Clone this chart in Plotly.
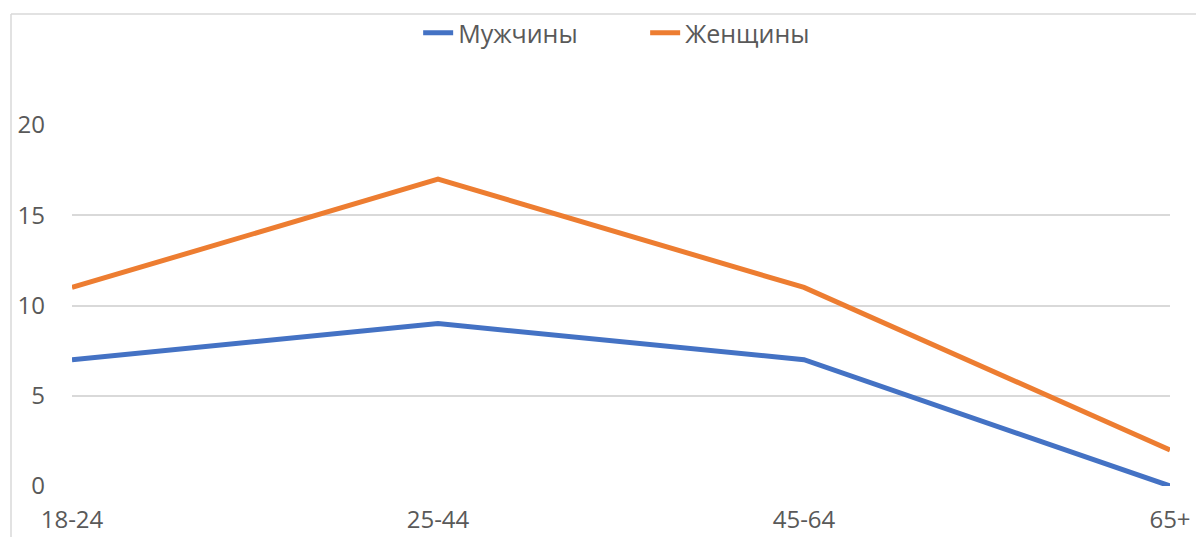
import plotly.graph_objects as go

# Age groups and counts per group
age_groups = ["18-24", "25-44", "45-64", "65+"]
men = [7, 9, 7, 0]
women = [11, 17, 11, 2]
y_ticks = [0, 5, 10, 15, 20]

W, H = 1196, 537
L, R, T, B = 72, 26, 125, 51
plot_w = W - L - R
plot_h = H - T - B

fig = go.Figure()
fig.add_trace(go.Scatter(x=age_groups, y=men, mode="lines", name="Мужчины",
                         line=dict(color="#4472C4", width=5), cliponaxis=False))
fig.add_trace(go.Scatter(x=age_groups, y=women, mode="lines", name="Женщины",
                         line=dict(color="#ED7D31", width=5), cliponaxis=False))

# chart frame (left and top edges of the chart area)
fx0 = (11 - L) / plot_w
fy1 = (H - B - 14) / plot_h
frame = dict(color="#d9d9d9", width=1.5)
fig.add_shape(type="line", xref="paper", yref="paper", x0=fx0, x1=fx0, y0=-1, y1=fy1, line=frame)
fig.add_shape(type="line", xref="paper", yref="paper", x0=fx0, x1=1.2, y0=fy1, y1=fy1, line=frame)

fig.update_layout(
    width=W, height=H,
    margin=dict(l=L, r=R, t=T, b=B, autoexpand=False),
    paper_bgcolor="white", plot_bgcolor="white",
    font=dict(family="Open Sans, sans-serif", size=24, color="#595959"),
    showlegend=True,
    legend=dict(orientation="h", x=0.522, xanchor="center", y=(H - B - 33) / plot_h,
                yanchor="middle", font=dict(size=25, color="#595959"),
                bgcolor="rgba(0,0,0,0)",
                entrywidth=182, entrywidthmode="pixels", tracegroupgap=0),
    xaxis=dict(type="category", range=[0, 3], showgrid=False, zeroline=False,
               showline=False, ticks="", ticklabelstandoff=17, tickfont=dict(size=24),
               automargin=False),
    yaxis=dict(range=[0, 20], tickvals=y_ticks, showgrid=True, gridcolor="#d9d9d9",
               gridwidth=1.5, zeroline=False, showline=False, ticks="",
               ticklabelstandoff=26, tickfont=dict(size=24), automargin=False),
)

fig.write_html("out.html")
